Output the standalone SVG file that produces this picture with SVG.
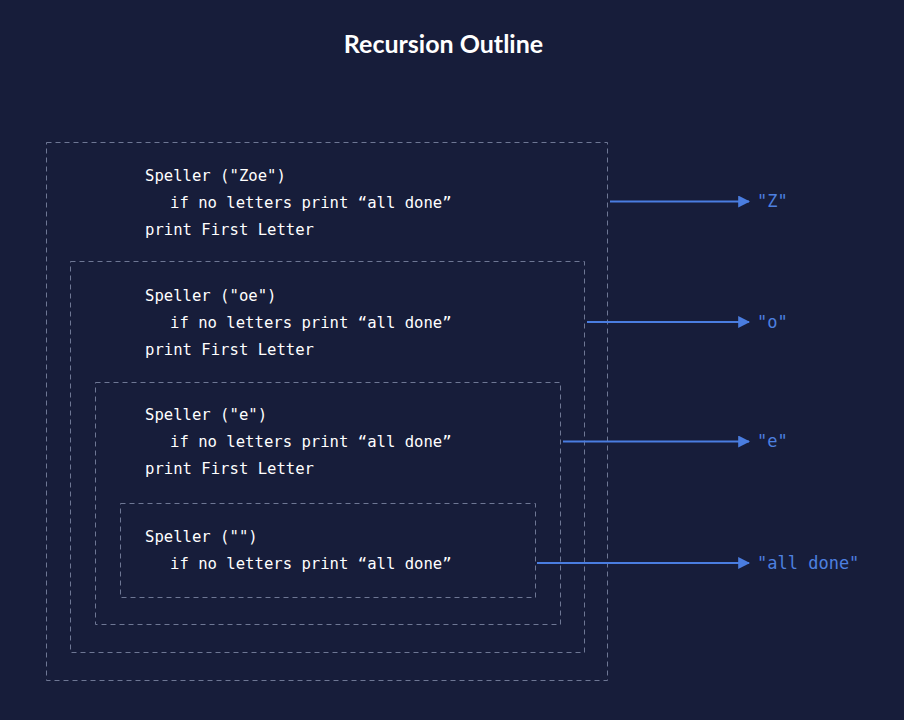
<svg xmlns="http://www.w3.org/2000/svg" width="904" height="720" viewBox="0 0 904 720">
<defs>
<style>
.bg{fill:#171d3a}
.title{font-family:Lato,"Open Sans","Liberation Sans",sans-serif;font-weight:bold;font-size:25px;fill:#ffffff}
.box{fill:none;stroke:#6e7794;stroke-width:1;stroke-dasharray:5 4}
.code{font-family:"DejaVu Sans Mono","Liberation Mono",monospace;font-size:15.6px;fill:#ffffff}
.edge{stroke:#4a7de0;stroke-width:2;fill:none;marker-end:url(#ah)}
.out{font-family:"DejaVu Sans Mono","Liberation Mono",monospace;font-size:17px;fill:#4d80e0}
</style>
<marker id="ah" viewBox="0 0 10 10" refX="9" refY="5" markerWidth="12" markerHeight="12" markerUnits="userSpaceOnUse" orient="auto">
<path d="M0,0 L10,5 L0,10 z" fill="#4a7de0"/>
</marker>
</defs>
<rect class="bg" x="0" y="0" width="904" height="720"/>
<text class="title" x="443.5" y="53" text-anchor="middle">Recursion Outline</text>

<g id="node-zoe">
<rect class="box" x="46.5" y="142.5" width="561" height="538"/>
<text class="code" x="145" y="181">Speller ("Zoe")</text>
<text class="code" x="170" y="208">if no letters print “all done”</text>
<text class="code" x="145" y="235">print First Letter</text>
</g>
<g id="node-oe">
<rect class="box" x="70.5" y="261.5" width="514" height="391"/>
<text class="code" x="145" y="301">Speller ("oe")</text>
<text class="code" x="170" y="328">if no letters print “all done”</text>
<text class="code" x="145" y="355">print First Letter</text>
</g>
<g id="node-e">
<rect class="box" x="95.5" y="382.5" width="465" height="242"/>
<text class="code" x="145" y="420">Speller ("e")</text>
<text class="code" x="170" y="447">if no letters print “all done”</text>
<text class="code" x="145" y="474">print First Letter</text>
</g>
<g id="node-empty">
<rect class="box" x="120.5" y="503.5" width="415" height="94"/>
<text class="code" x="145" y="542">Speller ("")</text>
<text class="code" x="170" y="569">if no letters print “all done”</text>
</g>

<g id="out-Z"><text class="out" x="757" y="207">"Z"</text></g>
<g id="out-o"><text class="out" x="757" y="328">"o"</text></g>
<g id="out-e"><text class="out" x="757" y="447">"e"</text></g>
<g id="out-done"><text class="out" x="757" y="569">"all done"</text></g>

<g id="connectors">
<line class="edge" x1="610" y1="201.5" x2="749" y2="201.5"/>
<line class="edge" x1="587" y1="322" x2="749" y2="322"/>
<line class="edge" x1="563" y1="441.5" x2="749" y2="441.5"/>
<line class="edge" x1="537" y1="563" x2="749" y2="563"/>
</g>
</svg>
